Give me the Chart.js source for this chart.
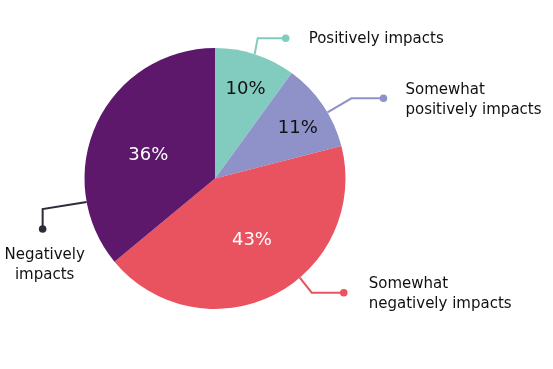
<!DOCTYPE html>
<html>
<head>
<meta charset="utf-8">
<script src="https://cdn.jsdelivr.net/npm/chart.js@4.4.0/dist/chart.umd.min.js"></script>
<style>
  html, body { margin: 0; padding: 0; background: #fff; }
  #wrap { width: 553px; height: 369px; }
</style>
</head>
<body>
<div id="wrap"><canvas id="myChart" width="553" height="369"></canvas></div>
<script>
const categories = ["Positively impacts", "Somewhat positively impacts", "Somewhat negatively impacts", "Negatively impacts"];
const shares = [10, 11, 43, 36];
const colors = ["#82cbbf", "#8e92c8", "#e9535f", "#5d176b"];

// label text split in lines, as in the picture
const labelLines = [["Positively impacts"], ["Somewhat", "positively impacts"], ["Somewhat", "negatively impacts"], ["Negatively", "impacts"]];

// leader line layout per slice: angle on rim (deg from top), elbow, dot, text
const callouts = [
  { ang: 17.7, elbow: [3, -16], run: 28, textDx: 23, align: "left", lineColor: "#82cbbf", textDy: 1 },
  { ang: 59.5, elbow: [24, -14], run: 32, textDx: 22, align: "left", lineColor: "#8e92c8", textDy: 2 },
  { ang: 139.5, elbow: [12, 15], run: 32, textDx: 25, align: "left", lineColor: "#e9535f", textDy: 1 },
  { ang: 259.6, elbow: [-44, 7], run: 20, textDx: 2, align: "center", lineColor: "#2b2b3a", textDy: 0, down: true }
];
const pctPos = [{ a: 19, r: 0.72 }, { a: 59, r: 0.74 }, { a: 149, r: 0.55 }, { a: 289, r: 0.54 }];
const pctColor = ["#111", "#111", "#fff", "#fff"];

const calloutPlugin = {
  id: "callouts",
  afterDatasetsDraw(chart) {
    const ctx = chart.ctx;
    const arc = chart.getDatasetMeta(0).data[0];
    const cx = arc.x, cy = arc.y, R = arc.outerRadius;
    const pt = (deg, r) => {
      const t = (deg - 90) * Math.PI / 180;
      return [cx + r * Math.cos(t), cy + r * Math.sin(t)];
    };
    ctx.save();
    // percentages
    ctx.font = "18px 'DejaVu Sans'";
    ctx.textAlign = "center";
    ctx.textBaseline = "middle";
    shares.forEach((v, i) => {
      const [x, y] = pt(pctPos[i].a, R * pctPos[i].r);
      ctx.fillStyle = pctColor[i];
      ctx.fillText(v + "%", x, y);
    });
    // leader lines and labels
    ctx.font = "15px 'DejaVu Sans'";
    callouts.forEach((c, i) => {
      const [x0, y0] = pt(c.ang, R);
      const x1 = x0 + c.elbow[0], y1 = y0 + c.elbow[1];
      let x2, y2;
      if (c.down) { x2 = x1; y2 = y1 + c.run; } else { x2 = x1 + c.run; y2 = y1; }
      ctx.strokeStyle = c.lineColor;
      ctx.lineWidth = 2;
      ctx.beginPath();
      ctx.moveTo(x0, y0); ctx.lineTo(x1, y1); ctx.lineTo(x2, y2);
      ctx.stroke();
      ctx.fillStyle = c.lineColor;
      ctx.beginPath();
      ctx.arc(x2, y2, 3.8, 0, Math.PI * 2);
      ctx.fill();
      ctx.fillStyle = "#111";
      ctx.textAlign = c.align;
      const lines = labelLines[i];
      const lh = 20;
      let tx, ty;
      if (c.down) { tx = x2 + c.textDx; ty = y2 + 26; }
      else { tx = x2 + c.textDx; ty = y2 - (lines.length - 1) * lh / 2 + c.textDy; }
      lines.forEach((ln, k) => ctx.fillText(ln, tx, ty + k * lh));
    });
    ctx.restore();
  }
};

new Chart(document.getElementById("myChart"), {
  type: "pie",
  data: {
    labels: categories,
    datasets: [{ data: shares, backgroundColor: colors, borderWidth: 0 }]
  },
  options: {
    responsive: false,
    animation: false,
    layout: { padding: { left: 84.5, right: 207.5, top: 48, bottom: 60 } },
    plugins: { legend: { display: false }, tooltip: { enabled: false } }
  },
  plugins: [calloutPlugin]
});
</script>
</body>
</html>
